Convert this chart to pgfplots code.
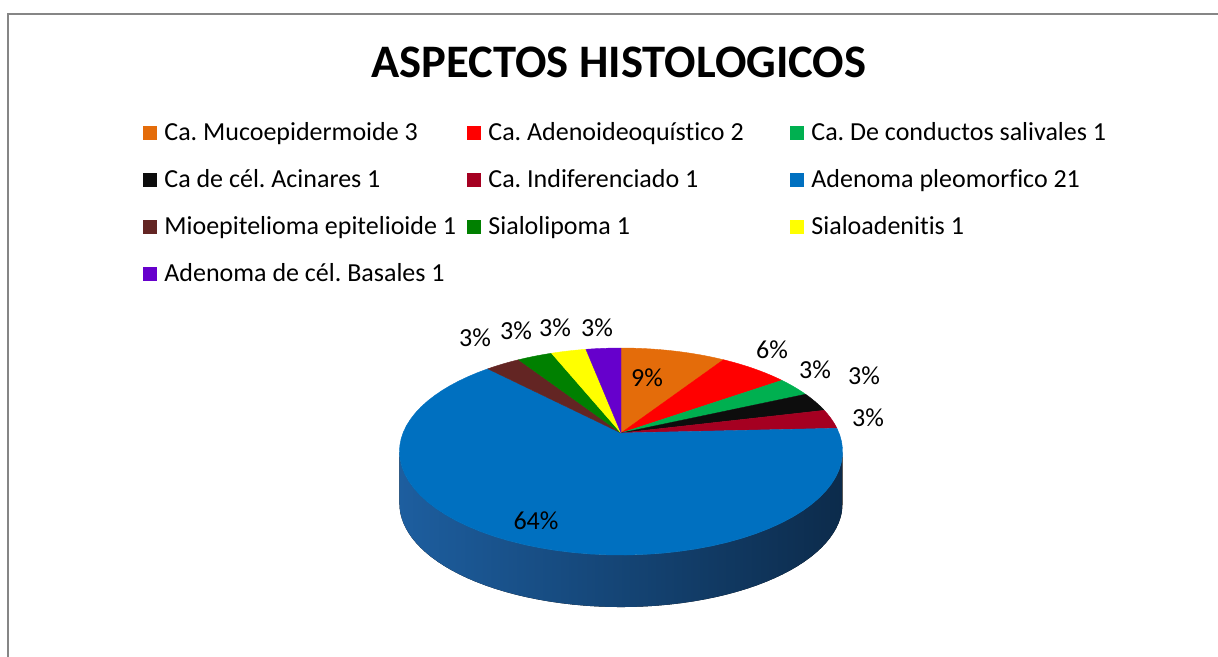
\documentclass[border=0pt]{standalone}
\usepackage{pgfplots}
\usepackage{pgfplotstable}
\pgfplotsset{compat=1.18}
\usepackage{fontspec}
\setmainfont{Carlito}[Ligatures=NoCommon]
\frenchspacing

\definecolor{cMuc}{HTML}{E46C0A}
\definecolor{cAde}{HTML}{FF0000}
\definecolor{cCon}{HTML}{00B050}
\definecolor{cAci}{HTML}{0D0D0D}
\definecolor{cInd}{HTML}{A50021}
\definecolor{cPle}{HTML}{0070C0}
\definecolor{cMio}{HTML}{632523}
\definecolor{cLip}{HTML}{008000}
\definecolor{cAdn}{HTML}{FFFF00}
\definecolor{cBas}{HTML}{6600CC}
\definecolor{frameg}{HTML}{868686}
\definecolor{sideL}{HTML}{1D5E9F}
\definecolor{sideM}{HTML}{164C84}
\definecolor{sideR}{HTML}{0C2B4B}

% pie data (counts), label positions in pixel coordinates
\pgfplotstableread[col sep=comma]{
name,value,color,lx,ly
Ca. Mucoepidermoide 3,3,cMuc,647,378
Ca. Adenoideoquístico 2,2,cAde,772,350
Ca. De conductos salivales 1,1,cCon,815,370
Ca de cél. Acinares 1,1,cAci,864,376
Ca. Indiferenciado 1,1,cInd,868,418
Adenoma pleomorfico 21,21,cPle,536,521
Mioepitelioma epitelioide 1,1,cMio,475,338
Sialolipoma 1,1,cLip,516,331
Sialoadenitis 1,1,cAdn,555,328
Adenoma de cél. Basales 1,1,cBas,597,328
}\histo

% perspective projection of the pie plane
\pgfmathdeclarefunction{pX}{1}{\pgfmathparse{621+218*cos(#1)/(1+0.179*sin(#1))}}
\pgfmathdeclarefunction{pY}{1}{\pgfmathparse{433-100.2*sin(#1)/(1+0.179*sin(#1))}}

\begin{document}
\begin{tikzpicture}
\begin{axis}[
  width=609pt, height=328.5pt, scale only axis,
  xmin=0, xmax=1218, ymin=0, ymax=657, y dir=reverse,
  hide axis, clip=false,
]
\pgfplotsextra{
  \coordinate (BL) at (axis cs:0,657);
  \coordinate (TR) at (axis cs:1218,0);
  % frame
  \draw[frameg, line width=0.9pt] (axis cs:8,700) -- (axis cs:8,14) -- (axis cs:1260,14);
  % title
  \node[anchor=base, inner sep=0pt, font=\bfseries\fontsize{23.3}{28}\selectfont] at (axis cs:619,77.5) {ASPECTOS HISTOLOGICOS};
  % total
  \xdef\tot{0}
  \foreach \i in {0,...,9}{
    \pgfplotstablegetelem{\i}{value}\of\histo
    \pgfmathsetmacro\nt{\tot+\pgfplotsretval}
    \xdef\tot{\nt}
  }
  % side of the pie
  \pgfmathsetmacro\sx{pX(190.3)}\pgfmathsetmacro\sy{pY(190.3)}
  \fill[left color=sideL, middle color=sideM, right color=sideR]
    (axis cs:\sx,\sy)
    \foreach \j [evaluate=\j as \px using {pX(190.3+159.4*\j/60)}, evaluate=\j as \py using {pY(190.3+159.4*\j/60)}] in {1,...,60} { -- (axis cs:\px,\py) }
    \foreach \j [evaluate=\j as \px using {pX(349.7-159.4*\j/60)}, evaluate=\j as \py using {pY(349.7-159.4*\j/60)+52}] in {0,...,60} { -- (axis cs:\px,\py) }
    -- cycle;
  % top face slices
  \xdef\cum{0}
  \foreach \i in {0,...,9}{
    \pgfplotstablegetelem{\i}{value}\of\histo \edef\v{\pgfplotsretval}
    \pgfplotstablegetelem{\i}{color}\of\histo \edef\cl{\pgfplotsretval}
    \pgfmathsetmacro\ts{90-360*\cum/\tot}
    \pgfmathsetmacro\nc{\cum+\v}
    \pgfmathsetmacro\te{90-360*\nc/\tot}
    \xdef\cum{\nc}
    \fill[fill=\cl, draw=\cl, line width=0.2pt, line join=round]
      (axis cs:621,433)
      \foreach \j [evaluate=\j as \px using {pX(\ts-(\ts-\te)*\j/60)}, evaluate=\j as \py using {pY(\ts-(\ts-\te)*\j/60)}] in {0,...,60} { -- (axis cs:\px,\py) }
      -- cycle;
  }
  % percentage labels and legend
  \foreach \i in {0,...,9}{
    \pgfplotstablegetelem{\i}{value}\of\histo \edef\v{\pgfplotsretval}
    \pgfplotstablegetelem{\i}{color}\of\histo \edef\cl{\pgfplotsretval}
    \pgfplotstablegetelem{\i}{lx}\of\histo \edef\lx{\pgfplotsretval}
    \pgfplotstablegetelem{\i}{ly}\of\histo \edef\ly{\pgfplotsretval}
    \pgfplotstablegetelem{\i}{name}\of\histo \let\nm\pgfplotsretval
    \pgfmathtruncatemacro\pct{round(100*\v/\tot)}
    \node[inner sep=0pt, font=\fontsize{13}{15}\selectfont] at (axis cs:\lx,\ly) {\pct\%};
    \pgfmathtruncatemacro\col{mod(\i,3)}
    \pgfmathtruncatemacro\row{floor(\i/3)}
    \pgfmathsetmacro\mx{{143,467,790}[\col]}
    \pgfmathsetmacro\my{133+47*\row}
    \pgfmathsetmacro\mxb{\mx+14}
    \pgfmathsetmacro\mya{\my-7}
    \pgfmathsetmacro\myb{\my+7}
    \pgfmathsetmacro\tx{\mx+21}
    \pgfmathsetmacro\ty{\my+7.5}
    \fill[fill=\cl] (axis cs:\mx,\mya) rectangle (axis cs:\mxb,\myb);
    \node[anchor=base west, inner sep=0pt, font=\fontsize{13}{15}\selectfont] at (axis cs:\tx,\ty) {\nm};
  }
}
\end{axis}
\pgfresetboundingbox
\useasboundingbox (BL) rectangle (TR);
\end{tikzpicture}
\end{document}
